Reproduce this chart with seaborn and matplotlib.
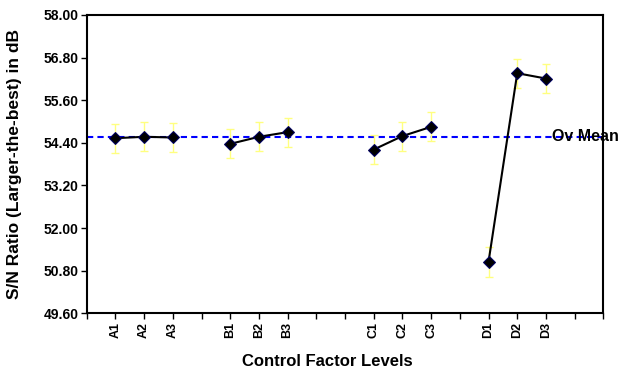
import matplotlib
matplotlib.use("Agg")
import matplotlib.pyplot as plt
import seaborn as sns
import pandas as pd
import numpy as np

# ---- data ----
tick_labels = ["", "A1", "A2", "A3", "", "B1", "B2", "B3", "", "",
               "C1", "C2", "C3", "", "D1", "D2", "D3", "", ""]
factors = ["A", "A", "A", "B", "B", "B", "C", "C", "C", "D", "D", "D"]
levels = ["A1", "A2", "A3", "B1", "B2", "B3", "C1", "C2", "C3", "D1", "D2", "D3"]
sn_ratio = [54.53, 54.57, 54.55, 54.37, 54.57, 54.70,
            54.21, 54.59, 54.85, 51.05, 56.36, 56.21]
err = [0.41, 0.41, 0.41, 0.41, 0.41, 0.41, 0.41, 0.41, 0.41, 0.42, 0.41, 0.41]
overall_mean = 54.57
y_ticks = [49.60, 50.80, 52.00, 53.20, 54.40, 55.60, 56.80, 58.00]

df = pd.DataFrame({"factor": factors, "level": levels, "sn": sn_ratio, "err": err})
df["x"] = [tick_labels.index(l) for l in levels]

sns.set_style("white")
plt.rcParams["font.family"] = ["Liberation Sans", "DejaVu Sans"]
plt.rcParams["font.weight"] = "bold"
plt.rcParams["text.color"] = "black"
plt.rcParams["axes.labelcolor"] = "black"
plt.rcParams["xtick.color"] = "black"
plt.rcParams["ytick.color"] = "black"

fig = plt.figure(figsize=(6.22, 3.74), dpi=100)
ax = fig.add_axes([0.1394, 0.1623, 0.8306, 0.7977])

# error bars (yellow)
ax.errorbar(df["x"], df["sn"], yerr=df["err"], fmt="none", ecolor="#ffff80",
            elinewidth=1.0, capsize=3, capthick=1.0, zorder=2)

# overall mean dashed line
ax.axhline(overall_mean, color="#0000ff", ls=(0, (3, 2)), lw=1.5, zorder=1)

sns.lineplot(data=df, x="x", y="sn", hue="factor", units="factor",
             estimator=None, palette=["black"] * 4, marker="D",
             markersize=6, markerfacecolor="black", markeredgecolor="#000060",
             linewidth=1.5, legend=False, ax=ax, zorder=3)

ax.text(16.21, overall_mean, "Ov Mean", fontsize=11.5, fontweight="bold",
        color="black", va="center", ha="left", clip_on=False, zorder=4)

ax.set_xlim(0, 18)
ax.set_ylim(49.60, 58.00)
ax.set_xticks(range(len(tick_labels)))
ax.set_xticklabels(tick_labels, rotation=90, fontsize=9, fontweight="bold")
ax.set_yticks(y_ticks)
ax.set_yticklabels([f"{v:.2f}" for v in y_ticks], fontsize=10, fontweight="bold")
ax.tick_params(axis="both", direction="out", length=4, width=1, color="black",
               labelcolor="black", bottom=True, left=True, pad=2)

for s in ax.spines.values():
    s.set_color("black")
    s.set_linewidth(1.5)
    s.set_visible(True)

ax.set_xlabel("Control Factor Levels", fontsize=12, fontweight="bold", color="black")
ax.xaxis.set_label_coords(0.465, -0.135)
ax.set_ylabel("S/N Ratio (Larger-the-best) in dB", fontsize=12.5,
              fontweight="bold", color="black")
ax.yaxis.set_label_coords(-0.139, 0.5)
ax.yaxis.label.set_va("center")

fig.savefig("out.png", dpi=100)
